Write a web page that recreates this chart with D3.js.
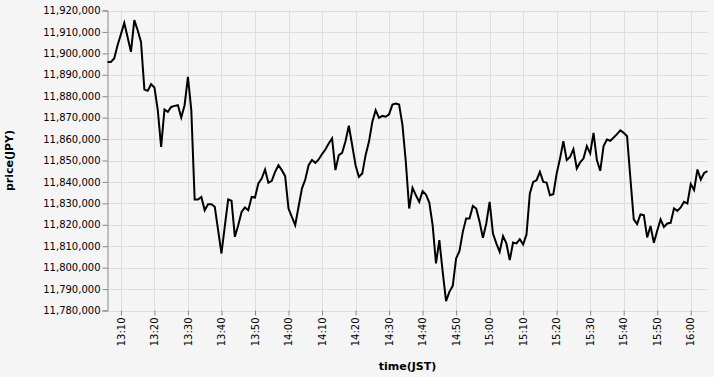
<!DOCTYPE html>
<html>
<head>
<meta charset="utf-8">
<script src="https://cdn.jsdelivr.net/npm/d3@7"></script>
<style>
  html, body { margin: 0; padding: 0; background: #f5f5f5; }
  svg { display: block; }
  text { font-family: "DejaVu Sans", sans-serif; }
</style>
</head>
<body>
<svg id="chart" width="714" height="377"></svg>
<script>
// ---- data ----
const startTime = "13:06";           // first sample, one sample per minute
const prices = [
  11896000, 11896000, 11897600, 11903800, 11908900, 11914200, 11907500, 11900700, 11915500, 11910800,
  11905300, 11883100, 11882500, 11885600, 11884100, 11873500, 11856400, 11873800, 11872700, 11875000,
  11875500, 11875800, 11870100, 11875800, 11889000, 11873500, 11831800, 11831800, 11833000, 11826800,
  11829600, 11829600, 11828400, 11817500, 11806600, 11819400, 11831800, 11831200, 11814400, 11819800,
  11826000, 11828100, 11826800, 11833000, 11832700, 11839300, 11841600, 11845800, 11839600, 11840500,
  11844700, 11847800, 11845500, 11842700, 11827600, 11823700, 11819800, 11828400, 11836900, 11841100,
  11847800, 11850200, 11848900, 11850500, 11853000, 11855100, 11857900, 11860300, 11845500, 11852500,
  11853600, 11859000, 11866200, 11857100, 11847800, 11842400, 11843900, 11852500, 11858700, 11868000,
  11873500, 11869900, 11870800, 11870400, 11871500, 11876100, 11876600, 11876100, 11866500, 11849400,
  11827600, 11837200, 11833800, 11830700, 11835700, 11834100, 11830400, 11819800, 11802000, 11812800,
  11798000, 11784400, 11788700, 11791500, 11804300, 11807700, 11816700, 11822900, 11822900, 11828800,
  11827600, 11821400, 11813900, 11820600, 11830700, 11815900, 11811300, 11807400, 11814700, 11811300,
  11803500, 11811700, 11811300, 11813300, 11810800, 11815500, 11834600, 11840000, 11840800, 11844700,
  11840000, 11839700, 11833800, 11834300, 11843900, 11850900, 11859000, 11850200, 11851700, 11855300,
  11846300, 11849100, 11850900, 11856700, 11853300, 11862900, 11850200, 11845200, 11856700, 11859800,
  11859200, 11860700, 11862300, 11864100, 11862900, 11861300, 11841600, 11822500, 11820300, 11824800,
  11824500, 11814100, 11819400, 11811600, 11817200, 11822500, 11819000, 11820600, 11820900, 11827600,
  11826500, 11828100, 11830700, 11829900, 11839000, 11836200, 11845800, 11841100, 11844200, 11845000
];
const yDomain = [11780000, 11920000];
const xTitle = "time(JST)";
const yTitle = "price(JPY)";

// ---- layout ----
const margin = { left: 107.5, top: 10.5, width: 600, height: 300 };
const svg = d3.select("#chart");
svg.append("rect").attr("width", 714).attr("height", 377).attr("fill", "#f5f5f5");

const parse = d3.timeParse("%H:%M");
const t0 = parse(startTime);
const data = prices.map((p, i) => ({ t: d3.timeMinute.offset(t0, i), v: p }));

const x = d3.scaleTime()
  .domain(d3.extent(data, d => d.t))
  .range([margin.left, margin.left + margin.width]);
const y = d3.scaleLinear()
  .domain(yDomain)
  .range([margin.top + margin.height, margin.top]);

const xTicks = x.ticks(d3.timeMinute.every(10));
const yTicks = d3.range(yDomain[0], yDomain[1] + 1, 10000);

const g = svg.append("g");

// grid
g.append("g").selectAll("line").data(yTicks).join("line")
  .attr("x1", margin.left).attr("x2", margin.left + margin.width)
  .attr("y1", d => Math.round(y(d)) + 0.5).attr("y2", d => Math.round(y(d)) + 0.5)
  .attr("stroke", "#ddd").attr("stroke-width", 1);
g.append("g").selectAll("line").data(xTicks).join("line")
  .attr("x1", d => Math.round(x(d)) + 0.5).attr("x2", d => Math.round(x(d)) + 0.5)
  .attr("y1", margin.top).attr("y2", margin.top + margin.height)
  .attr("stroke", "#ddd").attr("stroke-width", 1);

// y axis
const yAxis = d3.axisLeft(y).tickValues(yTicks).tickFormat(d3.format(",")).tickSize(5).tickPadding(2);
const ya = g.append("g").attr("transform", `translate(${margin.left},0)`).call(yAxis);
ya.select(".domain").attr("stroke", "#888");
ya.selectAll(".tick line").attr("stroke", "#888");
ya.selectAll(".tick text").attr("font-family", "DejaVu Sans, sans-serif").attr("font-size", 10).attr("fill", "#000");

// x axis
const xAxis = d3.axisBottom(x).tickValues(xTicks).tickFormat(d3.timeFormat("%H:%M")).tickSize(5).tickSizeOuter(0);
const xa = g.append("g").attr("transform", `translate(0,${margin.top + margin.height})`).call(xAxis);
xa.select(".domain").remove();
xa.selectAll(".tick line").attr("stroke", "#888");
xa.selectAll(".tick text")
  .attr("font-family", "DejaVu Sans, sans-serif").attr("font-size", 10).attr("fill", "#000")
  .attr("transform", "rotate(-90)")
  .attr("text-anchor", "end")
  .attr("x", -7).attr("y", 0).attr("dy", "0.32em");

// line
const line = d3.line().x(d => x(d.t)).y(d => y(d.v));
g.append("path").datum(data)
  .attr("d", line)
  .attr("fill", "none").attr("stroke", "#000").attr("stroke-width", 2)
  .attr("stroke-linejoin", "miter");

// titles
svg.append("text")
  .attr("x", margin.left + margin.width / 2).attr("y", 370)
  .attr("text-anchor", "middle").attr("font-size", 11).attr("font-weight", "bold").attr("fill", "#000")
  .text(xTitle);
svg.append("text")
  .attr("transform", `translate(13,${margin.top + margin.height / 2}) rotate(-90)`)
  .attr("text-anchor", "middle").attr("font-size", 11).attr("font-weight", "bold").attr("fill", "#000")
  .text(yTitle);
</script>
</body>
</html>
